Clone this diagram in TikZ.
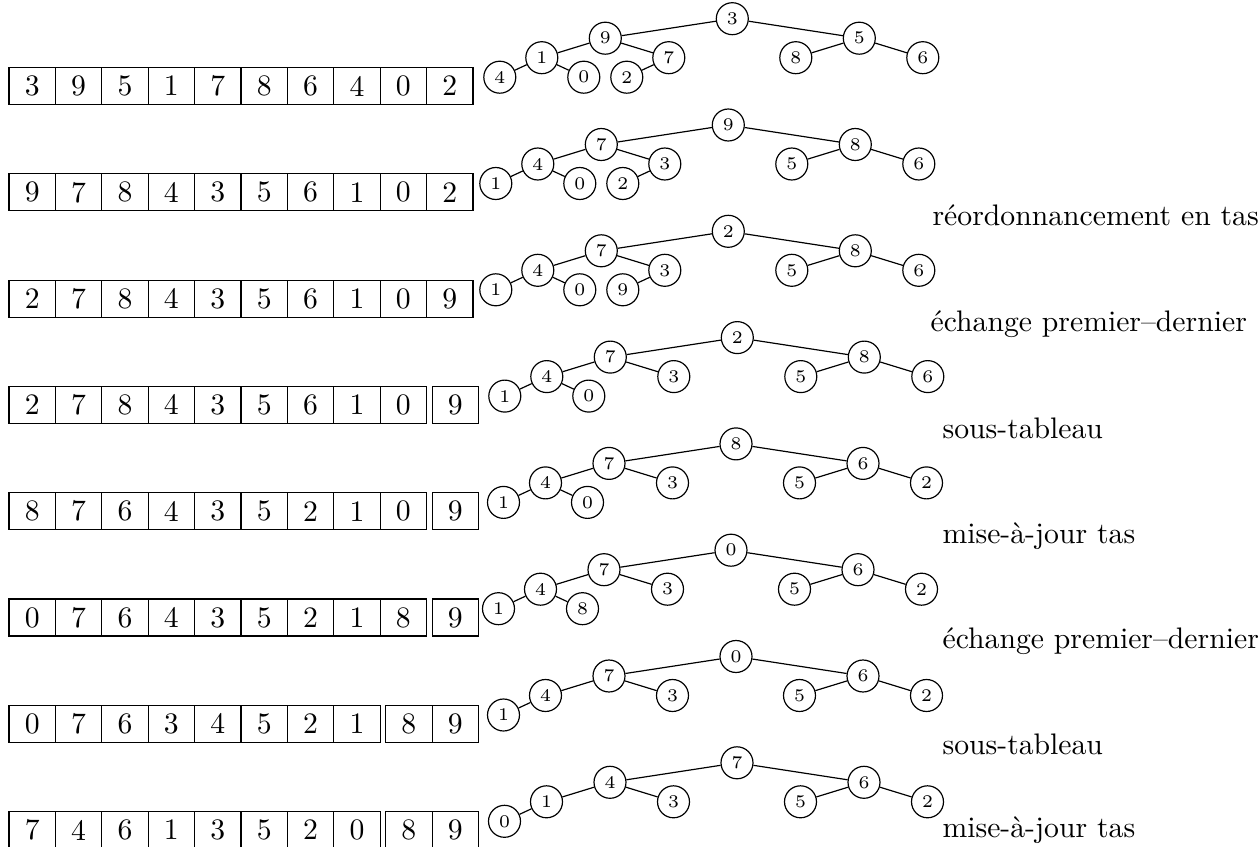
\documentclass[tikz,border=0pt]{standalone}
\usepackage{fontspec}
\newcommand\fullcells[3]{% prefix, y, list
  \foreach \v [count=\i from 0] in {#3} {\node[cell] (#1u\i) at ({9+46.4*(\i+0.5)},#2) {\v};}}
\newcommand\splitcells[5]{% prefix, y, n unsorted, unsorted list, sorted list
  \foreach \v [count=\i from 0] in {#4} {\node[cell] (#1u\i) at ({9+46.4*(\i+0.5)},#2) {\v};}
  \foreach \v [count=\j from 0] in {#5} {\node[cell] (#1s\j) at ({9+46.4*#3+5.5+46.4*(\j+0.5)},#2) {\v};}}
\newcommand\toptree[9]{% prefix, shift, root, L, R, LL, LR, RL, RR
  \begin{scope}[shift={#2}]
    \node[tn] (#1o) at (0,0) {#3};
    \node[tn] (#1L) at (-127,19.5) {#4};
    \node[tn] (#1R) at (127,19.5) {#5};
    \node[tn] (#1LL) at (-190.5,39) {#6};
    \node[tn] (#1LR) at (-63.5,39) {#7};
    \node[tn] (#1RL) at (63.5,39) {#8};
    \node[tn] (#1RR) at (190.5,39) {#9};
    \draw (#1o) -- (#1L);
    \draw (#1o) -- (#1R);
    \draw (#1L) -- (#1LL);
    \draw (#1L) -- (#1LR);
    \draw (#1R) -- (#1RL);
    \draw (#1R) -- (#1RR);
  \end{scope}}
\newcommand\lllnode[3]{% prefix, shift, text
  \begin{scope}[shift={#2}]
    \node[tn] (#1LLL) at (-232.5,58.5) {#3};
    \draw (#1LL) -- (#1LLL);
  \end{scope}}
\newcommand\llrnode[3]{%
  \begin{scope}[shift={#2}]
    \node[tn] (#1LLR) at (-148.5,58.5) {#3};
    \draw (#1LL) -- (#1LLR);
  \end{scope}}
\newcommand\lrlnode[3]{%
  \begin{scope}[shift={#2}]
    \node[tn] (#1LRL) at (-105.5,58.5) {#3};
    \draw (#1LR) -- (#1LRL);
  \end{scope}}
\begin{document}
\begin{tikzpicture}[x=0.3367pt,y=-0.3367pt,
  cell/.style={draw,rectangle,minimum width=15.62pt,minimum height=12.46pt,inner sep=0pt,outer sep=0pt,font=\normalsize},
  tn/.style={draw,circle,minimum size=10.77pt,inner sep=0pt,font=\fontsize{6}{7}\selectfont},
  lbl/.style={anchor=base west,inner sep=0pt,font=\normalsize}]
\useasboundingbox (0,0) rectangle (1260,847);

% arrays
\fullcells{A}{86}{3,9,5,1,7,8,6,4,0,2}
\fullcells{B}{192.3}{9,7,8,4,3,5,6,1,0,2}
\fullcells{C}{298.6}{2,7,8,4,3,5,6,1,0,9}
\splitcells{D}{404.9}{9}{2,7,8,4,3,5,6,1,0}{9}
\splitcells{E}{511.2}{9}{8,7,6,4,3,5,2,1,0}{9}
\splitcells{F}{617.5}{9}{0,7,6,4,3,5,2,1,8}{9}
\splitcells{G}{723.8}{8}{0,7,6,3,4,5,2,1}{8,9}
\splitcells{H}{830.1}{8}{7,4,6,1,3,5,2,0}{8,9}

% trees
\toptree{a}{(732.3,18.7)}{3}{9}{5}{1}{7}{8}{6}
\lllnode{a}{(732.3,18.7)}{4}
\llrnode{a}{(732.3,18.7)}{0}
\lrlnode{a}{(732.3,18.7)}{2}

\toptree{b}{(728.3,125.0)}{9}{7}{8}{4}{3}{5}{6}
\lllnode{b}{(728.3,125.0)}{1}
\llrnode{b}{(728.3,125.0)}{0}
\lrlnode{b}{(728.3,125.0)}{2}

\toptree{c}{(728.3,231.3)}{2}{7}{8}{4}{3}{5}{6}
\lllnode{c}{(728.3,231.3)}{1}
\llrnode{c}{(728.3,231.3)}{0}
\lrlnode{c}{(728.3,231.3)}{9}

\toptree{d}{(737.3,337.6)}{2}{7}{8}{4}{3}{5}{6}
\lllnode{d}{(737.3,337.6)}{1}
\llrnode{d}{(737.3,337.6)}{0}

\toptree{e}{(736,443.9)}{8}{7}{6}{4}{3}{5}{2}
\lllnode{e}{(736,443.9)}{1}
\llrnode{e}{(736,443.9)}{0}

\toptree{f}{(731,550.2)}{0}{7}{6}{4}{3}{5}{2}
\lllnode{f}{(731,550.2)}{1}
\llrnode{f}{(731,550.2)}{8}

\toptree{g}{(736,656.5)}{0}{7}{6}{4}{3}{5}{2}
\lllnode{g}{(736,656.5)}{1}

\toptree{h}{(737,762.8)}{7}{4}{6}{1}{3}{5}{2}
\lllnode{h}{(737,762.8)}{0}

% labels
\node[lbl] (lb) at (932,225) {réordonnancement en tas};
\node[lbl] (lc) at (930,331) {échange premier–dernier};
\node[lbl] (ld) at (942,438) {sous-tableau};
\node[lbl] (le) at (942,543) {mise-à-jour tas};
\node[lbl] (lf) at (942,648) {échange premier–dernier};
\node[lbl] (lg) at (942,754) {sous-tableau};
\node[lbl] (lh) at (942,837) {mise-à-jour tas};
\end{tikzpicture}
\end{document}
